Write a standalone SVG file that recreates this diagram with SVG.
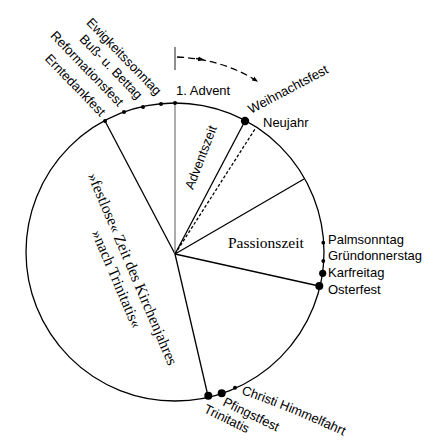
<svg xmlns="http://www.w3.org/2000/svg" width="441" height="445" viewBox="0 0 441 445">
<style>
.s{font-family:"Liberation Sans","DejaVu Sans",sans-serif;font-size:13px;fill:#000}
.r{font-family:"Liberation Serif","DejaVu Serif",serif;font-size:15.5px;fill:#000}
.ln{stroke:#000;stroke-width:1.3;fill:none}
.dot{fill:#000}
</style>
<defs>
<marker id="ah" viewBox="0 0 10 10" refX="8" refY="5" markerWidth="6" markerHeight="6" orient="auto" markerUnits="userSpaceOnUse"><path d="M0,1 L10,5 L0,9 z" fill="#000"/></marker>
<path id="chpath" d="M241,394 Q288,410 346,437"/>
</defs>
<rect width="441" height="445" fill="#fff"/>
<g id="circle"><circle cx="175" cy="252" r="149" class="ln"/></g>
<g id="connectors">
<line x1="175" y1="254" x2="105" y2="121" class="ln"/>
<line x1="175" y1="254" x2="175" y2="103" stroke="#808080" stroke-width="1.3"/>
<line x1="175" y1="254" x2="245" y2="121" class="ln"/>
<line x1="175" y1="254" x2="255" y2="129" class="ln" stroke-dasharray="3 2"/>
<line x1="175" y1="254" x2="304" y2="179" class="ln"/>
<line x1="175" y1="254" x2="319" y2="286" class="ln"/>
<line x1="175" y1="254" x2="208" y2="396" class="ln"/>
<line x1="175" y1="47" x2="175" y2="70" stroke="#444" stroke-width="1.2"/>
<path d="M177,57 Q222,59 257,81" class="ln" stroke-width="1.2" stroke-dasharray="7 4" marker-end="url(#ah)"/>
<path d="M196,58.5 L203,59.6" class="ln" marker-end="url(#ah)"/>
</g>
<g id="erntedankfest"><circle cx="105" cy="121" r="2" class="dot"/><text class="s" text-anchor="end" transform="translate(100,117) rotate(46)">Erntedankfest</text></g>
<g id="reformationsfest"><circle cx="124" cy="112" r="2" class="dot"/><text class="s" text-anchor="end" transform="translate(118,107) rotate(46)">Reformationsfest</text></g>
<g id="bussbettag"><circle cx="143" cy="107" r="2" class="dot"/><text class="s" text-anchor="end" transform="translate(137,100) rotate(46)">Buß- u. Bettag</text></g>
<g id="ewigkeitssonntag"><circle cx="161" cy="104" r="2" class="dot"/><text class="s" text-anchor="end" transform="translate(156,96) rotate(46)">Ewigkeitssonntag</text></g>
<g id="advent"><circle cx="175" cy="103" r="2" class="dot"/><text class="s" x="176" y="95">1. Advent</text></g>
<g id="weihnachtsfest"><circle cx="245" cy="121" r="4.2" class="dot"/><text class="s" font-size="12" transform="translate(251,114) rotate(-28)">Weihnachtsfest</text></g>
<g id="neujahr"><text class="s" font-size="11" x="263" y="127">Neujahr</text></g>
<g id="adventszeit"><text class="s" text-anchor="middle" transform="translate(205,159) rotate(-69)">Adventszeit</text></g>
<g id="passionszeit"><text class="r" x="228" y="248">Passionszeit</text></g>
<g id="palmsonntag"><circle cx="323.3" cy="242.7" r="1.9" class="dot"/><text class="s" font-size="12" x="328" y="244">Palmsonntag</text></g>
<g id="gruendonnerstag"><circle cx="323.3" cy="261" r="1.9" class="dot"/><text class="s" font-size="12" x="328" y="260">Gründonnerstag</text></g>
<g id="karfreitag"><circle cx="322.7" cy="273.3" r="3.6" class="dot"/><text class="s" font-size="12" x="328" y="277">Karfreitag</text></g>
<g id="osterfest"><circle cx="319.3" cy="286" r="4" class="dot"/><text class="s" font-size="12" x="328" y="294">Osterfest</text></g>
<g id="festlos"><text class="r" text-anchor="middle" transform="translate(128,271) rotate(67)">»festlose« Zeit des Kirchenjahres</text><text class="r" text-anchor="middle" transform="translate(112,281) rotate(67)">»nach Trinitatis«</text></g>
<g id="trinitatis"><circle cx="208.3" cy="395.7" r="4" class="dot"/><text class="s" font-size="12.5" transform="translate(203,412) rotate(26)">Trinitatis</text></g>
<g id="pfingstfest"><circle cx="221.7" cy="393.3" r="4" class="dot"/><text class="s" font-size="12.5" transform="translate(222,405) rotate(26)">Pfingstfest</text></g>
<g id="himmelfahrt"><circle cx="235" cy="387.7" r="2" class="dot"/><text class="s" font-size="12.5"><textPath href="#chpath">Christi Himmelfahrt</textPath></text></g>
</svg>
